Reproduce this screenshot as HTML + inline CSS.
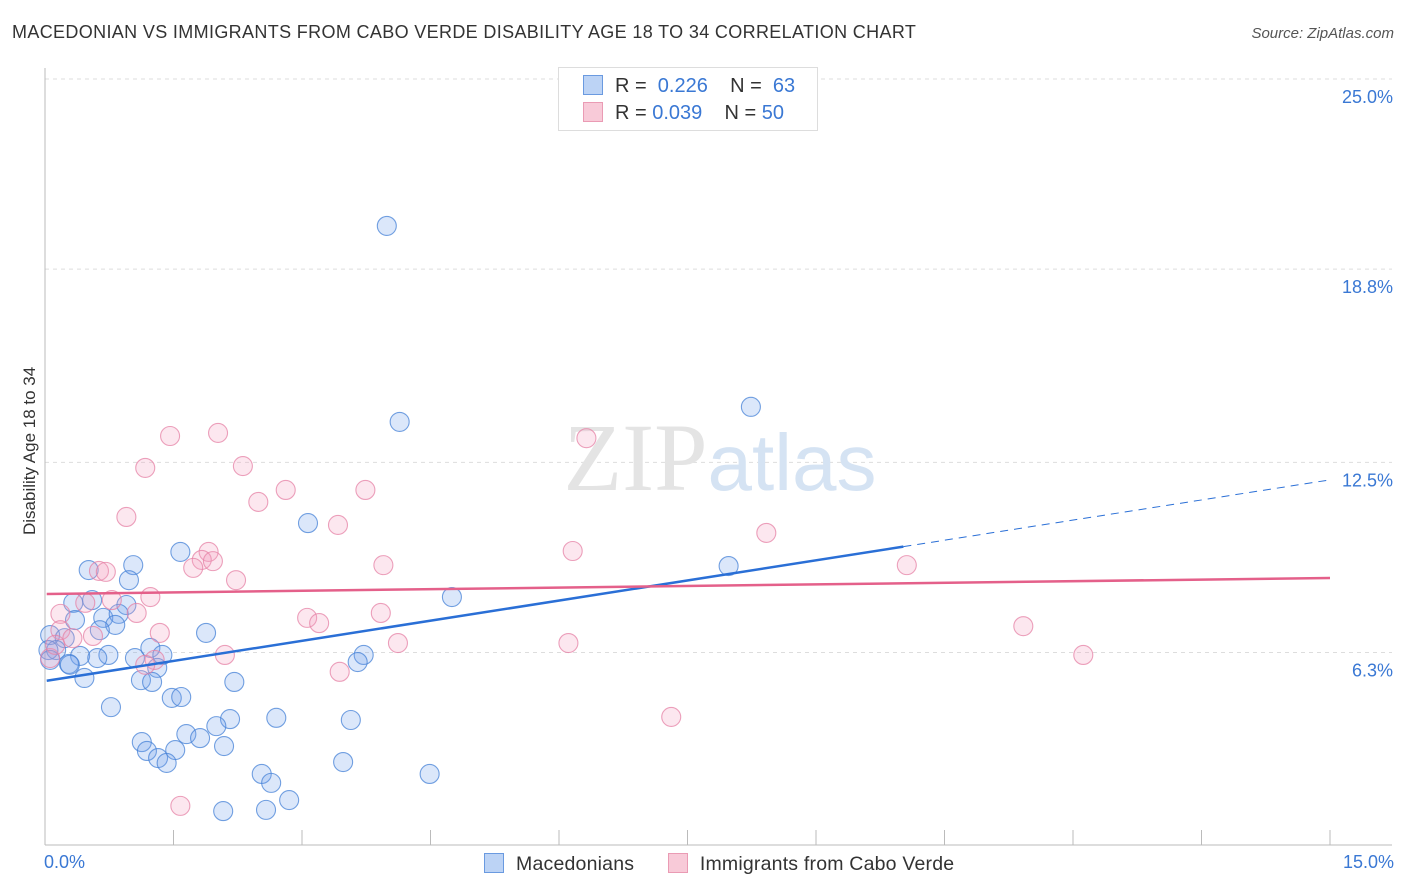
<!DOCTYPE html>
<html><head><meta charset="utf-8"><style>
body{margin:0;background:#fff;font-family:"Liberation Sans",sans-serif}
#wrap{position:relative;width:1406px;height:892px}
.t{position:absolute;white-space:nowrap}
</style></head><body>
<div id="wrap">
<div class="t" style="left:12px;top:22px;font-size:18px;color:#333;letter-spacing:0.35px">MACEDONIAN VS IMMIGRANTS FROM CABO VERDE DISABILITY AGE 18 TO 34 CORRELATION CHART</div>
<div class="t" style="right:12px;top:25px;font-size:15px;color:#555;font-style:italic">Source: ZipAtlas.com</div>
<div class="t" style="left:-50px;top:445px;font-size:17px;color:#333;transform:rotate(-90deg);width:160px;text-align:center">Disability Age 18 to 34</div>
<svg id="svg" width="1406" height="892" style="position:absolute;left:0;top:0"></svg>
</div>
<script>
const yTicks=[25.0,18.8,12.5,6.3];
const yTickLabels=["25.0%","18.8%","12.5%","6.3%"];
const blueX=[3.99,8.24,4.14,3.07,1.58,1.03,0.51,0.98,7.98,4.75,0.33,0.55,0.95,0.68,0.86,0.35,0.82,0.64,0.06,0.23,1.88,1.23,0.13,0.41,0.74,1.05,1.37,0.61,0.28,0.29,1.31,3.72,3.65,0.46,1.12,1.25,2.21,0.77,1.48,1.59,2.16,2.70,3.57,2.00,1.65,1.81,1.13,2.09,1.19,1.52,1.32,1.42,3.48,2.53,2.64,4.49,2.85,2.08,2.58,0.04,0.06];
const blueY=[20.21,14.31,13.82,10.52,9.58,9.15,8.99,8.66,9.12,8.11,7.92,8.01,7.85,7.43,7.56,7.36,7.20,7.03,6.87,6.77,6.94,6.45,6.38,6.19,6.22,6.12,6.22,6.12,5.93,5.90,5.80,6.22,5.99,5.47,5.40,5.34,5.34,4.52,4.82,4.85,4.13,4.17,4.10,3.90,3.64,3.51,3.38,3.25,3.09,3.12,2.86,2.70,2.73,2.34,2.05,2.34,1.49,1.13,1.17,6.38,6.06];
const pinkX=[1.46,2.02,6.32,1.17,2.31,2.81,3.74,2.49,0.95,3.42,8.42,6.16,1.91,1.83,1.96,3.95,10.06,1.73,0.63,0.71,2.23,1.23,0.47,0.78,0.18,1.07,3.92,3.06,3.20,11.42,0.18,0.56,1.34,0.32,4.12,6.11,2.10,12.12,1.28,1.17,3.44,0.06,0.12,7.31,1.58];
const pinkY=[13.36,13.46,13.29,12.32,12.38,11.60,11.60,11.21,10.72,10.46,10.20,9.61,9.58,9.32,9.28,9.15,9.15,9.06,8.96,8.93,8.66,8.11,7.92,8.01,7.56,7.59,7.59,7.43,7.26,7.16,7.03,6.84,6.94,6.77,6.61,6.61,6.22,6.22,6.06,5.90,5.67,6.12,6.55,4.20,1.30];
const blueTrend=[5.37,11.93], blueSolidEnd=10.02;
const pinkTrend=[8.21,8.73];
const X=v=>45+v/15*1285, Y=v=>79+(25-v)*30.67;
const svg=document.getElementById('svg'), NS='http://www.w3.org/2000/svg';
function mk(tag,attrs,name){const e=document.createElementNS(NS,tag);for(const k in attrs)e.setAttribute(k,attrs[k]);


svg.appendChild(e);return e;}
yTicks.forEach((t,i)=>{mk('line',{x1:45,x2:1392,y1:Y(t),y2:Y(t),stroke:'#ddd','stroke-dasharray':'4,4'},'gridline');
const tx=mk('text',{x:1393,y:Y(t)+24,'text-anchor':'end','font-size':18,fill:'#3a78d4','font-family':'Liberation Sans'},'y-tick-label');tx.textContent=yTickLabels[i];});
mk('line',{x1:45,x2:45,y1:68,y2:845,stroke:'#bbb'},'y-axis');
mk('line',{x1:45,x2:1392,y1:845,y2:845,stroke:'#bbb'},'x-axis');
for(let i=0;i<=10;i++)mk('line',{x1:X(i*1.5),x2:X(i*1.5),y1:830,y2:845,stroke:'#bbb'},'x-tick');
let w=mk('text',{x:720,y:490,'text-anchor':'middle','font-size':96,fill:'#e4e4e4','font-family':'Liberation Serif'},'watermark');w.innerHTML='ZIP<tspan fill="#d5e3f3" font-family="Liberation Sans" font-size="80">atlas</tspan>';
function pts(xs,ys,f,s,n){xs.forEach((x,i)=>mk('circle',{cx:X(x),cy:Y(ys[i]),r:9.5,fill:f,stroke:s,'stroke-width':1.1},n));}
pts(blueX,blueY,'rgba(110,160,235,0.25)','rgba(70,130,215,0.75)','macedonian-point');
pts(pinkX,pinkY,'rgba(245,160,190,0.25)','rgba(230,130,165,0.75)','cabo-verde-point');
const by=x=>blueTrend[0]+(blueTrend[1]-blueTrend[0])*x/15;
mk('line',{x1:X(0.02),y1:Y(by(0.02)),x2:X(blueSolidEnd),y2:Y(by(blueSolidEnd)),stroke:'#2a6fd6','stroke-width':2.5},'macedonian-trend');
mk('line',{x1:X(blueSolidEnd),y1:Y(by(blueSolidEnd)),x2:X(15),y2:Y(by(15)),stroke:'#2a6fd6','stroke-width':1,'stroke-dasharray':'8,6'},'macedonian-trend-ext');
mk('line',{x1:X(0.02),y1:Y(pinkTrend[0]),x2:X(15),y2:Y(pinkTrend[1]),stroke:'#e4608a','stroke-width':2.5},'cabo-verde-trend');
</script>
<div class="t" style="left:44px;top:852px;font-size:18px;color:#3a78d4">0.0%</div>
<div class="t" style="right:12px;top:852px;font-size:18px;color:#3a78d4">15.0%</div>
<div style="position:absolute;left:558px;top:67px;width:258px;height:62px;border:1px solid #ddd;background:#fff;font-size:20px;color:#333">
 <div class="t" style="left:26px;top:7px"><span style="display:inline-block;width:18px;height:18px;background:#bcd3f5;border:1px solid #6a9ae0;vertical-align:-3px;margin-right:12px;margin-left:-2px"></span>R = <span style="color:#3a78d4">&nbsp;0.226</span>&nbsp;&nbsp;&nbsp; N = &nbsp;<span style="color:#3a78d4">63</span></div>
 <div class="t" style="left:26px;top:34px"><span style="display:inline-block;width:18px;height:18px;background:#f8cad8;border:1px solid #ea9bb4;vertical-align:-3px;margin-right:12px;margin-left:-2px"></span>R = <span style="color:#3a78d4">0.039</span>&nbsp;&nbsp;&nbsp; N = <span style="color:#3a78d4">50</span></div>
</div>
<div class="t" style="left:484px;top:853px;font-size:19.5px;color:#333;letter-spacing:0.2px">
 <span><span style="display:inline-block;width:18px;height:18px;background:#bcd3f5;border:1px solid #6a9ae0;vertical-align:-3px;margin-right:12px"></span>Macedonians</span>
 <span style="margin-left:28px"><span style="display:inline-block;width:18px;height:18px;background:#f8cad8;border:1px solid #ea9bb4;vertical-align:-3px;margin-right:12px"></span>Immigrants from Cabo Verde</span>
</div>
</body></html>
